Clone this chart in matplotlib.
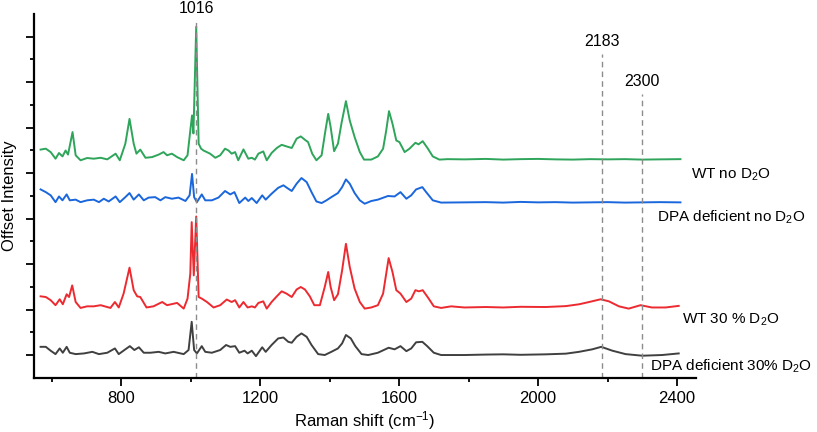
import numpy as np
import matplotlib
matplotlib.use('Agg')
import matplotlib.pyplot as plt

plt.rcParams['font.family'] = ['Liberation Sans', 'DejaVu Sans']
plt.rcParams['mathtext.fontset'] = 'custom'
plt.rcParams['mathtext.rm'] = 'Liberation Sans'
plt.rcParams['mathtext.it'] = 'Liberation Sans:italic'

# spectra: wavenumber (cm-1), intensity above own baseline
wt_no_x = [568, 583, 597, 611, 621, 631, 640, 647, 660, 669, 683, 702, 721, 741, 760, 784, 796,
           812, 824, 836, 844, 855, 870, 889, 908, 922, 932, 946, 961, 980, 991, 999, 1004, 1008,
           1016, 1023, 1030, 1037, 1056, 1071, 1085, 1099, 1109, 1118, 1128, 1137, 1152, 1166,
           1176, 1185, 1195, 1209, 1219, 1233, 1248, 1262, 1276, 1291, 1305, 1317, 1329, 1338,
           1350, 1362, 1377, 1388, 1396, 1403, 1413, 1424, 1434, 1447, 1458, 1472, 1487, 1499,
           1520, 1539, 1554, 1563, 1571, 1581, 1592, 1601, 1616, 1630, 1647, 1656, 1668, 1683,
           1697, 1716, 1740, 1788, 1850, 1900, 1950, 2000, 2050, 2100, 2150, 2200, 2250, 2300,
           2350, 2410]
wt_no_y = [0.43, 0.47, 0.32, 0.03, 0.28, 0.13, 0.39, 0.21, 1.20, 0.18, -0.04, 0.06, 0.03, 0.07,
           0.00, 0.25, -0.04, 0.69, 1.78, 0.69, 0.25, 0.43, 0.07, 0.10, 0.21, 0.32, 0.18, 0.25,
           0.10, -0.04, 0.18, 1.27, 1.93, 1.14, 5.83, 0.69, 0.47, 0.39, 0.25, 0.07, 0.18, 0.47,
           0.39, 0.25, 0.32, -0.04, 0.44, 0.03, 0.07, -0.01, 0.25, 0.35, -0.04, 0.28, 0.50, 0.64,
           0.57, 0.50, 0.91, 1.01, 0.86, 0.76, 0.25, -0.04, 0.18, 1.27, 2.00, 1.42, 0.36, 0.69,
           1.57, 2.56, 1.71, 0.98, 0.32, -0.01, -0.01, 0.13, 0.47, 1.27, 2.12, 1.57, 0.83, 0.76,
           0.32, 0.47, 0.73, 0.66, 0.80, 0.47, 0.13, -0.01, 0.01, 0.00, 0.02, -0.01, 0.01, 0.02,
           0.00, -0.01, 0.01, 0.00, 0.01, -0.01, 0.00, 0.01]

dpa_no_x = [568, 583, 597, 611, 621, 631, 643, 652, 669, 683, 702, 721, 736, 750, 764, 784, 796,
            812, 824, 836, 851, 865, 879, 898, 913, 927, 946, 965, 985, 997, 1004, 1010, 1018,
            1032, 1042, 1061, 1080, 1099, 1114, 1126, 1140, 1157, 1166, 1176, 1190, 1206, 1216,
            1233, 1252, 1267, 1281, 1291, 1305, 1319, 1334, 1348, 1362, 1377, 1391, 1405, 1424,
            1436, 1447, 1458, 1472, 1487, 1501, 1520, 1539, 1568, 1587, 1604, 1621, 1635, 1649,
            1667, 1678, 1697, 1721, 1788, 1850, 1900, 1950, 2000, 2050, 2100, 2150, 2200, 2250,
            2300, 2350, 2410]
dpa_no_y = [0.57, 0.45, 0.31, 0.01, 0.26, 0.09, 0.35, 0.09, 0.12, 0.01, 0.09, 0.12, 0.01, 0.16,
            0.04, 0.26, 0.01, 0.23, 0.41, 0.12, 0.35, 0.09, 0.21, 0.23, 0.09, 0.23, 0.16, 0.21,
            0.06, 0.31, 1.25, 0.23, 0.01, 0.35, 0.09, 0.09, 0.21, 0.50, 0.35, 0.45, -0.03, 0.21,
            0.06, 0.19, -0.03, 0.31, 0.12, 0.38, 0.64, 0.75, 0.60, 0.50, 0.82, 1.07, 0.89, 0.45,
            0.04, -0.03, 0.09, 0.23, 0.41, 0.67, 1.01, 0.82, 0.41, 0.09, -0.06, 0.06, 0.12, 0.28,
            0.26, 0.45, 0.16, 0.31, 0.57, 0.67, 0.45, 0.09, -0.01, 0.00, 0.01, -0.01, 0.02, 0.00,
            0.01, -0.01, 0.00, 0.01, -0.01, 0.00, 0.01, 0.00]

wt_d2o_x = [568, 583, 597, 611, 623, 632, 643, 650, 659, 669, 683, 702, 721, 741, 769, 782, 793,
            807, 824, 836, 846, 855, 873, 893, 918, 932, 961, 980, 991, 999, 1003, 1009, 1016,
            1023, 1032, 1047, 1066, 1085, 1104, 1118, 1128, 1140, 1152, 1164, 1176, 1185, 1195,
            1209, 1219, 1233, 1248, 1262, 1276, 1291, 1305, 1317, 1329, 1343, 1356, 1372, 1386,
            1396, 1403, 1413, 1424, 1436, 1447, 1458, 1472, 1487, 1501, 1520, 1539, 1554, 1563,
            1570, 1581, 1592, 1604, 1621, 1635, 1647, 1657, 1668, 1683, 1700, 1721, 1750, 1788,
            1850, 1900, 1950, 2022, 2080, 2118, 2147, 2180, 2204, 2233, 2261, 2295, 2328, 2367,
            2405]
wt_d2o_y = [0.48, 0.45, 0.31, 0.09, 0.35, 0.13, 0.57, 0.45, 0.96, 0.23, -0.03, 0.04, 0.04, 0.09,
            -0.03, 0.23, -0.01, 0.60, 1.74, 0.75, 0.48, 0.45, -0.01, 0.04, 0.23, 0.09, 0.19,
            -0.06, 0.38, 1.48, 3.74, 1.40, 3.99, 0.45, 0.38, 0.23, -0.01, 0.09, 0.34, 0.23, 0.31,
            -0.01, 0.23, -0.01, 0.04, -0.01, 0.19, 0.26, -0.06, 0.23, 0.48, 0.70, 0.60, 0.45,
            0.78, 0.89, 0.78, 0.48, 0.09, 0.09, 0.89, 1.55, 0.89, 0.31, 0.57, 1.62, 2.79, 1.77,
            0.82, 0.23, -0.06, -0.01, 0.09, 0.60, 1.48, 2.16, 1.55, 0.75, 0.60, 0.23, 0.38, 0.75,
            0.70, 0.75, 0.43, 0.04, -0.03, 0.04, -0.01, 0.01, -0.01, 0.02, 0.01, 0.05, 0.13, 0.23,
            0.35, 0.26, 0.04, -0.06, 0.09, -0.01, -0.01, 0.06]

dpa_d2o_x = [568, 583, 597, 611, 623, 632, 643, 652, 669, 693, 717, 736, 760, 782, 793, 812, 825,
             838, 851, 865, 884, 908, 927, 951, 980, 994, 1003, 1010, 1018, 1032, 1042, 1061,
             1085, 1102, 1114, 1128, 1140, 1155, 1164, 1176, 1188, 1206, 1216, 1233, 1252, 1267,
             1281, 1291, 1305, 1319, 1334, 1348, 1367, 1386, 1405, 1424, 1436, 1447, 1461, 1474,
             1492, 1511, 1539, 1570, 1587, 1604, 1621, 1635, 1649, 1667, 1681, 1700, 1721, 1788,
             1850, 1900, 1950, 2022, 2080, 2118, 2156, 2182, 2214, 2252, 2300, 2357, 2405]
dpa_d2o_y = [0.34, 0.34, 0.17, 0.02, 0.27, 0.08, 0.34, 0.08, 0.02, 0.05, 0.12, 0.02, 0.08, 0.27,
             0.02, 0.23, 0.37, 0.20, 0.32, 0.08, 0.08, 0.12, 0.05, 0.12, 0.02, 0.20, 1.44, 0.20,
             0.05, 0.37, 0.12, 0.08, 0.20, 0.42, 0.34, 0.37, 0.08, 0.17, 0.05, 0.17, -0.07, 0.32,
             0.12, 0.42, 0.71, 0.75, 0.56, 0.52, 0.78, 0.93, 0.78, 0.42, 0.02, -0.02, 0.12, 0.27,
             0.49, 0.86, 0.71, 0.37, 0.02, -0.02, 0.08, 0.30, 0.23, 0.37, 0.15, 0.27, 0.54, 0.56,
             0.37, 0.08, -0.02, -0.02, 0.00, 0.01, -0.01, 0.01, 0.04, 0.12, 0.23, 0.34, 0.17, 0.02,
             -0.05, -0.02, 0.05]

names = ['WT no D$_2$O', 'DPA deficient no D$_2$O', 'WT 30 % D$_2$O', 'DPA deficient 30% D$_2$O']
offsets = [9.61, 7.72, 3.11, 1.03]
colors = ['#2ea55a', '#1a66dc', '#ec2a30', '#404040']
label_x = [2441, 2343, 2414, 2322]
label_y = [8.95, 7.07, 2.54, 0.50]

marks = [1016, 2183, 2300]
mark_top = [15.8, 14.25, 12.5]
mark_text_y = [16.25, 14.8, 13.05]

spectra = [(wt_no_x, wt_no_y), (dpa_no_x, dpa_no_y), (wt_d2o_x, wt_d2o_y), (dpa_d2o_x, dpa_d2o_y)]

fig = plt.figure(figsize=(8.17, 4.32), dpi=100)
ax = fig.add_axes([0.0416, 0.125, 0.8104, 0.8426])

for (xs, ys), off, c in zip(spectra, offsets, colors):
    ax.plot(xs, np.array(ys) + off, color=c, lw=1.4)

for m, top, ty in zip(marks, mark_top, mark_text_y):
    ax.plot([m, m], [0, top], color='#8c8c8c', lw=1.0, ls=(0, (4, 3)), clip_on=False)
    ax.text(m, ty, str(m), ha='center', va='center', fontsize=11.5, clip_on=False)

for name, lx, ly in zip(names, label_x, label_y):
    ax.text(lx, ly, name, ha='left', va='center', fontsize=11, clip_on=False)

ax.set_xlim(549, 2455)
ax.set_ylim(0, 16)
ax.set_xticks([800, 1200, 1600, 2000, 2400])
ax.set_xticks([600, 1000, 1400, 1800, 2200], minor=True)
ax.set_yticks(np.arange(1, 16, 2))
ax.set_yticks(np.arange(2, 16, 2), minor=True)
ax.set_yticklabels([])
ax.tick_params(which='major', length=6, width=1.3, labelsize=12, direction='out')
ax.tick_params(which='minor', length=3, width=1.3, direction='out')
ax.spines['top'].set_visible(False)
ax.spines['right'].set_visible(False)
ax.spines['left'].set_linewidth(1.6)
ax.spines['bottom'].set_linewidth(1.6)
ax.set_xlabel('Raman shift (cm$^{-1}$)', fontsize=12, labelpad=2)
ax.set_ylabel('Offset Intensity', fontsize=12)
ax.yaxis.set_label_coords(-0.026, 0.5)

fig.savefig('out.png', dpi=100)
